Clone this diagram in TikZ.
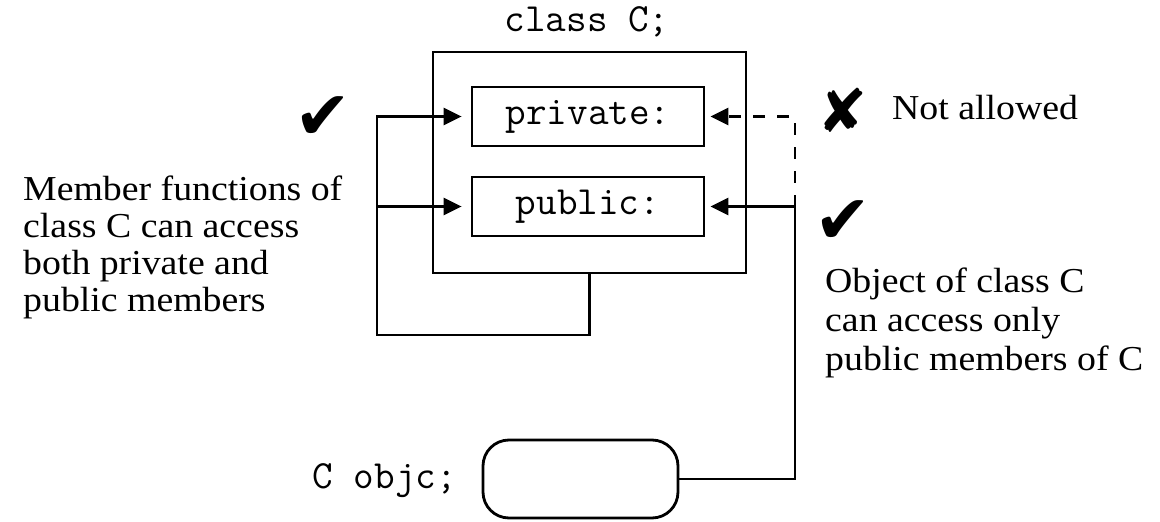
\documentclass[tikz,border=0pt]{standalone}
\usepackage{fontspec}
\setmainfont{Liberation Serif}[FakeStretch=1.08]
\newfontfamily\symfont{DejaVu Sans}
\usetikzlibrary{arrows.meta}

\begin{document}
\begin{tikzpicture}[x=1pt,y=-1pt,
  wire/.style={line width=2.4pt},
  tip/.style={-{Triangle[length=18pt,width=17pt]}},
  dashwire/.style={wire,dash pattern=on 12pt off 12pt},
  frame/.style={draw,line width=2.8pt,inner sep=0},
  box/.style={frame,minimum width=232pt,minimum height=59pt,font=\ttfamily\fontsize{40pt}{40pt}\selectfont},
  code/.style={inner sep=0,font=\ttfamily\fontsize{40pt}{40pt}\selectfont},
  prose/.style={inner sep=0,align=left,font=\fontsize{35pt}{37pt}\selectfont},
  symb/.style={inner sep=0,font=\symfont\fontsize{68pt}{68pt}\selectfont}
]
\useasboundingbox (0,0) rectangle (1160,522);

% class C and its two access sections
\node[frame,minimum width=313pt,minimum height=221pt] (cls) at (589.5,162.5) {};
\node[code,anchor=base] (clsname) at (587,31) {class C;};
\node[box] (priv) at (588,116.5) {private:};
\node[box] (pub) at (588,206.5) {public:};

% object of class C
\node[frame,rounded corners=26pt,minimum width=195pt,minimum height=78pt] (obj) at (580.5,479) {};
\node[code,anchor=base east] (objname) at (457,488) {C objc;};

% member functions: from the class back into both sections
\coordinate (bl) at (377,335);
\draw[wire,tip,shorten >=9pt] (cls.south) |- (bl) |- (priv.west);
\draw[wire,tip,shorten >=9pt] (bl |- pub.west) -- (pub.west);

% object access: public allowed, private not allowed
\coordinate (jr) at (795,206.5);
\draw[wire,tip,shorten >=5pt] (obj.east) -| (jr) -- (pub.east);
\draw[dashwire,tip,shorten >=5pt] (jr) |- (priv.east);

% annotations
\node[symb] (okL) at (323,118) {✔};
\node[prose,anchor=north west] (memtxt) at (23,176) {Member functions of\\class C can access\\both private and\\public members};
\node[symb,font=\symfont\fontsize{60pt}{60pt}\selectfont] (no) at (843,110) {✘};
\node[prose,anchor=base west] (notallowed) at (892,119) {Not allowed};
\node[symb] (okR) at (843,222) {✔};
\node[prose,anchor=north west,font=\fontsize{35pt}{39pt}\selectfont] (objtxt) at (825,268) {Object of class C\\can access only\\public members of C};
\end{tikzpicture}
\end{document}
